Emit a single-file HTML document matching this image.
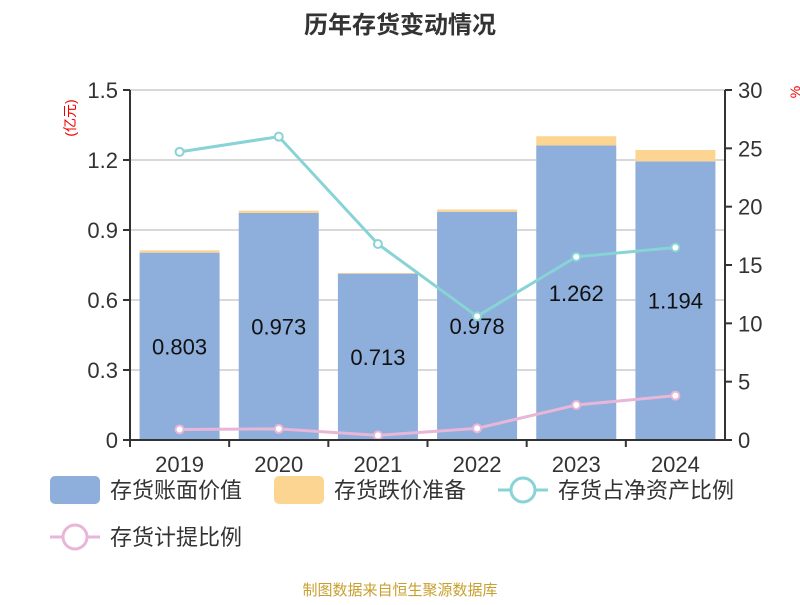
<!DOCTYPE html>
<html><head><meta charset="utf-8"><style>
body{margin:0;background:#fff;font-family:"Liberation Sans","Noto Sans CJK SC",sans-serif}
svg text{font-family:"Liberation Sans","Noto Sans CJK SC",sans-serif}
</style></head><body>
<svg width="800" height="600" xmlns="http://www.w3.org/2000/svg">
<text x="400" y="33" text-anchor="middle" font-size="24" font-weight="bold" fill="#333">历年存货变动情况</text>
<text x="75" y="118" font-size="14" fill="#e00" transform="rotate(-90 75 118)" text-anchor="middle">(亿元)</text>
<text x="800" y="92" font-size="14" fill="#e00" transform="rotate(-90 800 92)" text-anchor="middle">%</text>
<g id="grid"></g><g id="bars"></g><g id="lines"></g><g id="axes"></g>
<g>
<rect x="50" y="476" width="50" height="28" rx="5" fill="#8eaedb"/>
<text x="110" y="498" font-size="22" fill="#333">存货账面价值</text>
<rect x="274" y="476" width="50" height="28" rx="5" fill="#fdd593"/>
<text x="334" y="498" font-size="22" fill="#333">存货跌价准备</text>
<line x1="498" y1="490" x2="548" y2="490" stroke="#88d3d5" stroke-width="3"/>
<circle cx="523" cy="490" r="12" fill="#fff" stroke="#88d3d5" stroke-width="3"/>
<text x="558" y="498" font-size="22" fill="#333">存货占净资产比例</text>
<line x1="50" y1="537" x2="100" y2="537" stroke="#e8b6d8" stroke-width="3"/>
<circle cx="75" cy="537" r="12" fill="#fff" stroke="#e8b6d8" stroke-width="3"/>
<text x="110" y="545" font-size="22" fill="#333">存货计提比例</text>
</g>
<text x="400" y="595" text-anchor="middle" font-size="15" fill="#c8a030">制图数据来自恒生聚源数据库</text>
</svg>
<script>
const categories=["2019","2020","2021","2022","2023","2024"];
const bookValue=[0.803,0.973,0.713,0.978,1.262,1.194];
const reserve=[0.01,0.01,0.003,0.01,0.04,0.049];
const ratioNet=[24.7,26.0,16.8,10.6,15.7,16.5];
const provisionRatio=[0.9,0.95,0.4,1.0,3.0,3.8];
const leftTicks=["0","0.3","0.6","0.9","1.2","1.5"];
const rightTicks=["0","5","10","15","20","25","30"];
const NS="http://www.w3.org/2000/svg";
const X0=130,X1=725,Y0=440,Y1=90;
const band=(X1-X0)/categories.length;
const xc=i=>X0+band*(i+0.5);
const yL=v=>Y0-(v/1.5)*(Y0-Y1);
const yR=v=>Y0-(v/30)*(Y0-Y1);
function mk(tag,attrs,parent){const e=document.createElementNS(NS,tag);for(const k in attrs)e.setAttribute(k,attrs[k]);document.getElementById(parent).appendChild(e);return e;}
leftTicks.forEach(t=>{const y=yL(parseFloat(t));
 if(parseFloat(t)>0){const g=mk('line',{x1:X0,x2:X1,y1:y,y2:y,stroke:'#ccc','stroke-width':1.5},'grid');
 
 }
 mk('line',{x1:X0-7,x2:X0,y1:y,y2:y,stroke:'#333','stroke-width':2},'axes');
 const tx=mk('text',{x:X0-12,y:y+8,'text-anchor':'end','font-size':22,fill:'#333'},'axes');tx.textContent=t;
 
 });
rightTicks.forEach(t=>{const y=yR(parseFloat(t));
 mk('line',{x1:X1,x2:X1+7,y1:y,y2:y,stroke:'#333','stroke-width':2},'axes');
 const tx=mk('text',{x:X1+13,y:y+8,'font-size':22,fill:'#333'},'axes');tx.textContent=t;
 
 });
mk('line',{x1:X0,x2:X0,y1:Y1,y2:Y0,stroke:'#333','stroke-width':2},'axes');
mk('line',{x1:X1,x2:X1,y1:Y1,y2:Y0,stroke:'#333','stroke-width':2},'axes');
mk('line',{x1:X0,x2:X1,y1:Y0,y2:Y0,stroke:'#333','stroke-width':2},'axes');
categories.forEach((c,i)=>{
 const bx=xc(i)-40;
 const b=mk('rect',{x:bx,y:yL(bookValue[i]),width:80,height:Y0-yL(bookValue[i]),fill:'#8eaedb'},'bars');
 
 
 const top=bookValue[i]+reserve[i];
 const r=mk('rect',{x:bx,y:yL(top),width:80,height:yL(bookValue[i])-yL(top),fill:'#fdd593'},'bars');
 
 
 const l=mk('text',{x:xc(i),y:(yL(bookValue[i])+Y0)/2+8,'text-anchor':'middle','font-size':22,fill:'#111'},'bars');l.textContent=bookValue[i].toFixed(3);
 
 
 mk('line',{x1:X0+band*i,x2:X0+band*i,y1:Y0,y2:Y0+7,stroke:'#333','stroke-width':2},'axes');
 const tx=mk('text',{x:xc(i),y:Y0+32,'text-anchor':'middle','font-size':22,fill:'#333'},'axes');tx.textContent=c;
 
 
});
function series(vals,color,name){
 const p=mk('polyline',{points:vals.map((v,i)=>xc(i)+','+yR(v)).join(' '),fill:'none',stroke:color,'stroke-width':3},'lines');
 
 
 vals.forEach((v,i)=>{const c=mk('circle',{cx:xc(i),cy:yR(v),r:4,fill:'#fff',stroke:color,'stroke-width':2},'lines');
 
 });
}
series(ratioNet,'#88d3d5','ratio-net');
series(provisionRatio,'#e8b6d8','provision-ratio');
</script>
</body></html>
